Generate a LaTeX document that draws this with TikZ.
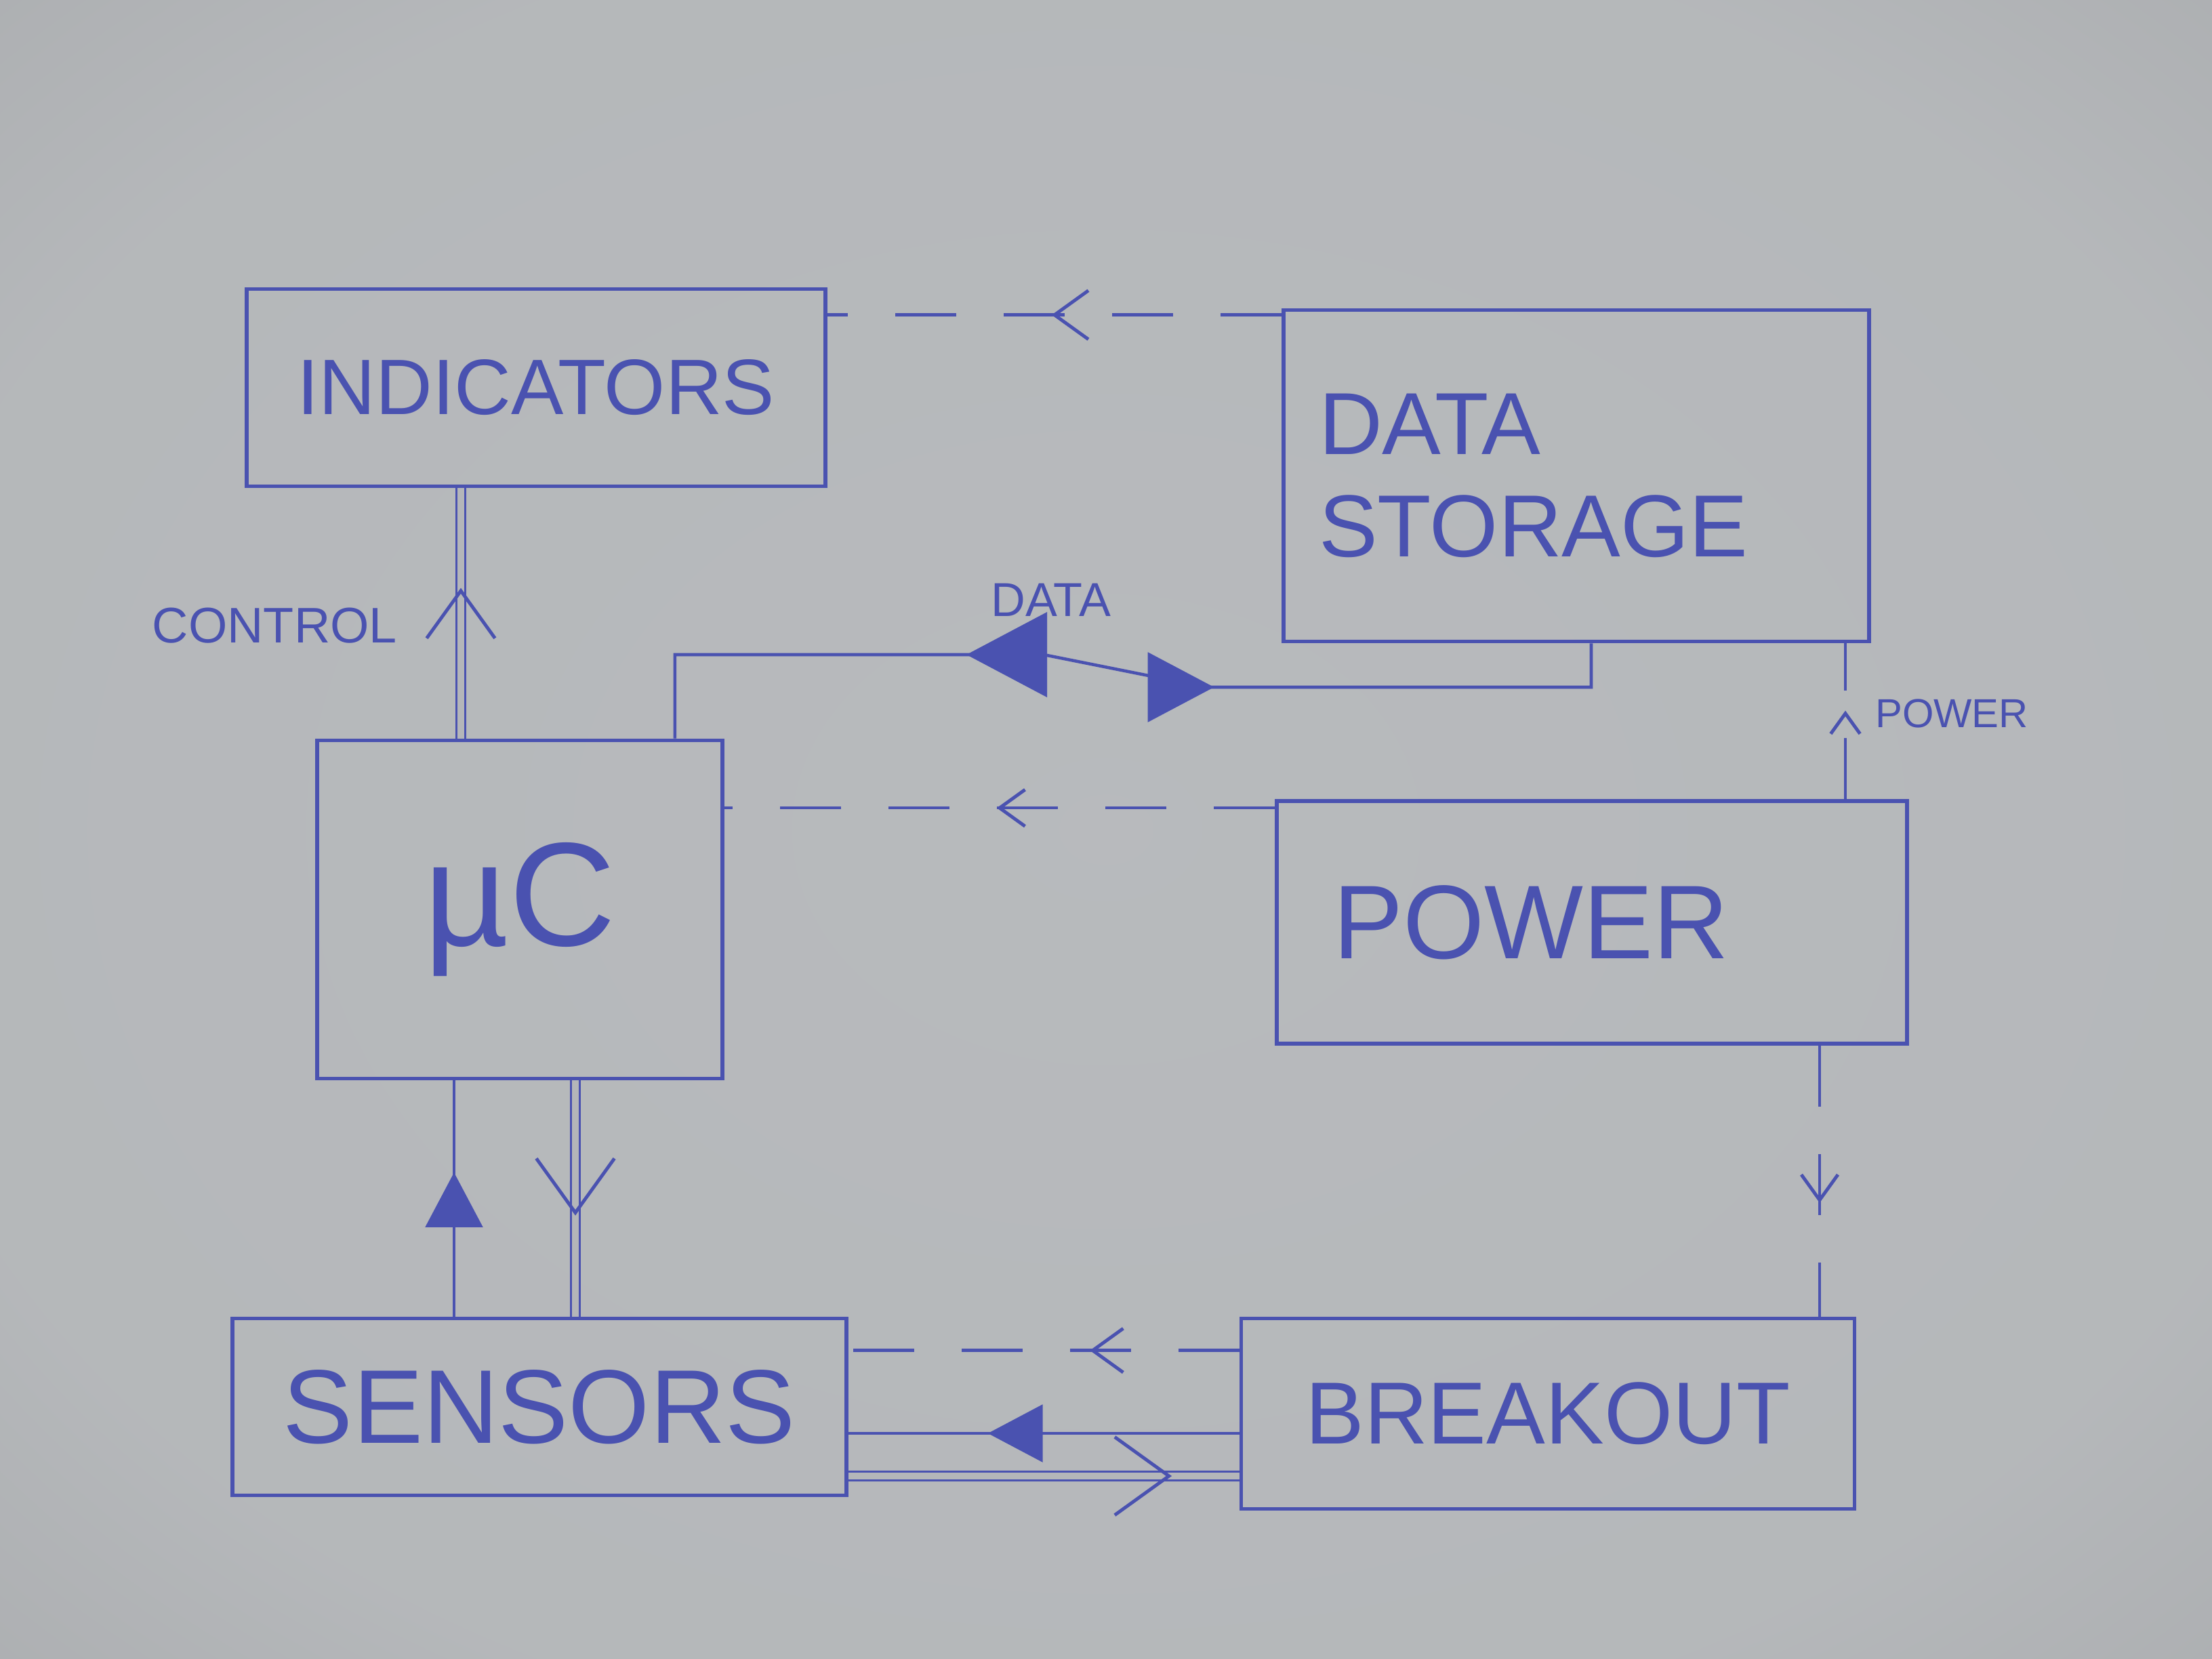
\documentclass[tikz,border=0pt]{standalone}
\usepackage{fontspec}
\setmainfont{Liberation Sans}
\usepackage{xcolor}
\usepackage{tikz}
\usetikzlibrary{
  positioning,
  calc,
  decorations.markings,
}
\definecolor{ink}{RGB}{74,82,176}
\definecolor{paper}{RGB}{180,182,185}
\pgfdeclareradialshading{paper sheet}{\pgfpoint{0bp}{0bp}}{%
  rgb(0bp)=(0.72,0.73,0.74); rgb(28bp)=(0.71,0.72,0.73); rgb(72bp)=(0.54,0.545,0.555)}
\newcommand{\handsize}[2]{\fontsize{#1}{#2}\selectfont}
\tikzset{
  sketch box/.style={
    draw=ink,
    line width=1.6pt,
    text=ink,
    rectangle,
    inner sep=0pt,
    align=center
  },
  tag/.style={
    text=ink,
    inner sep=1pt
  },
  link/.style={draw=ink, line width=1.3pt},
  supply/.style={link, dash pattern=on 0.9cm off 0.7cm},
  bus/.style={draw=ink, line width=0.9pt, double=paper, double distance=3pt},
  chev/.style 2 args={postaction={decorate, decoration={markings,
    mark=at position #1 with {\draw[ink, solid, line width=1.4pt, scale=#2] (-0.5,0.36) -- (0,0) -- (-0.5,-0.36);}}}},
  tri/.style 2 args={postaction={decorate, decoration={markings,
    mark=at position #1 with {\fill[ink, scale=#2] (0,0) -- (-0.85,0.45) -- (-0.85,-0.45) -- cycle;}}}}
}

\begin{document}
\begin{tikzpicture}
  \useasboundingbox (0,0) rectangle (32.64,-24.48);
  \shade[shading=paper sheet] (0,0) rectangle (32.64,-24.48);

  \node[sketch box, minimum width=8.54cm, minimum height=2.91cm, font=\handsize{33}{40}] (ind) at (7.91,-5.72) {INDICATORS};
  \node[sketch box, minimum width=8.64cm, minimum height=4.89cm, text width=7.6cm, align=left, inner xsep=0.52cm, font=\handsize{37}{43}] (store) at (23.26,-7.02) {DATA\\STORAGE};
  \node[sketch box, minimum width=5.98cm, minimum height=4.99cm, font=\handsize{62}{70}] (mc) at (7.67,-13.42) {µC};
  \node[sketch box, minimum width=9.30cm, minimum height=3.58cm, text width=7.64cm, align=left, inner xsep=0.83cm, font=\handsize{44}{50}] (power) at (23.49,-13.61) {POWER};
  \node[sketch box, minimum width=9.06cm, minimum height=2.61cm, font=\handsize{44}{50}] (sens) at (7.96,-20.76) {SENSORS};
  \node[sketch box, minimum width=9.05cm, minimum height=2.81cm, font=\handsize{37}{43}] (brk) at (22.84,-20.86) {BREAKOUT};

  % power lines
  \coordinate (a1) at ($(store.north west)+(0,-0.1)$);
  \draw[supply, chev={0.5}{1}] (a1) -- (a1 -| ind.east);
  \coordinate (p1) at ($(power.north west)+(0,-0.13)$);
  \draw[supply, chev={0.5}{0.75}] (p1) -- (p1 -| mc.east);
  \coordinate (q0) at ($(power.north)+(3.74,0)$);
  \draw[supply, chev={0.55}{0.6}] (q0) -- coordinate[pos=0.55] (qmid) (q0 |- store.south);
  \node[tag, right=0.4 of qmid, font=\handsize{17}{20}] (powtag) {POWER};
  \coordinate (r0) at ($(power.south)+(3.36,0)$);
  \draw[supply, chev={0.57}{0.75}] (r0) -- (r0 |- brk.north);
  \coordinate (b0) at ($(brk.north west)+(0,-0.5)$);
  \draw[supply, chev={0.375}{0.9}] (b0) -- (b0 -| sens.east);

  % control
  \coordinate (c0) at ($(mc.north)+(-0.87,0)$);
  \draw[bus, chev={0.59}{1.4}] (c0) -- coordinate[pos=0.45] (cmid) (c0 |- ind.south);
  \node[tag, left=0.9 of cmid, font=\handsize{21}{25}] (ctrltag) {CONTROL};

  % data
  \coordinate (d0) at ($(mc.north east)+(-0.73,0)$);
  \coordinate (dl) at (15.40,-9.66);
  \coordinate (dr) at (17.80,-10.14);
  \coordinate (ds) at ($(store.south)+(0.22,0)$);
  \draw[link, tri={5.54cm}{-1.4}, tri={9.24cm}{1.15}] (d0) |- (dl) -- (dr) -| (ds);
  \node[tag, font=\handsize{20}{24}] (datatag) at (15.51,-8.85) {DATA};

  % sensors
  \coordinate (s0) at ($(sens.north)+(-1.26,0)$);
  \draw[link, tri={0.61}{0.95}] (s0) -- (s0 |- mc.south);
  \coordinate (s1) at ($(mc.south)+(0.82,0)$);
  \draw[bus, chev={0.56}{1.6}] (s1) -- (s1 |- sens.north);
  \coordinate (b1) at ($(brk.west)+(0,-0.29)$);
  \draw[link, tri={0.643}{0.95}] (b1) -- (b1 -| sens.east);
  \coordinate (b2) at ($(sens.east)+(0,-1.02)$);
  \draw[bus, chev={0.82}{1.6}] (b2) -- (b2 -| brk.west);
\end{tikzpicture}
\end{document}
